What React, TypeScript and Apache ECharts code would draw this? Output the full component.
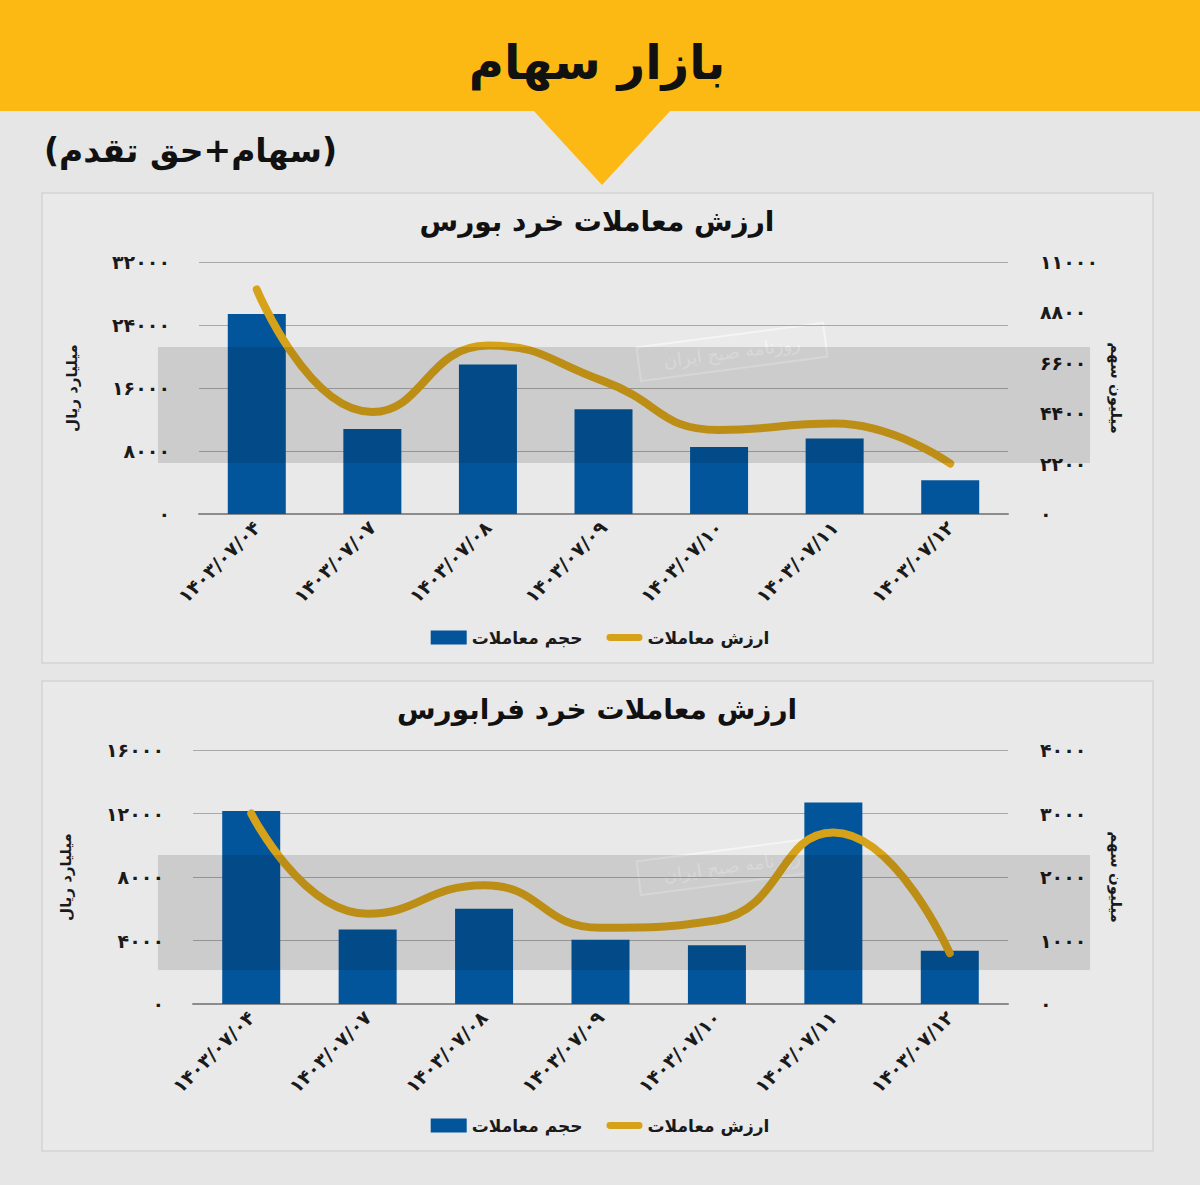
import React, { useEffect, useRef } from "react";
import * as echarts from "echarts";

const categories = [
  "۱۴۰۳/۰۷/۰۴",
  "۱۴۰۳/۰۷/۰۷",
  "۱۴۰۳/۰۷/۰۸",
  "۱۴۰۳/۰۷/۰۹",
  "۱۴۰۳/۰۷/۱۰",
  "۱۴۰۳/۰۷/۱۱",
  "۱۴۰۳/۰۷/۱۲",
];
// بورس
const boursVolume = [25400, 10800, 19000, 13300, 8500, 9600, 4300];
const boursValue = [9800, 4450, 7350, 5800, 3670, 3950, 2200];
// فرابورس
const faraVolume = [12150, 4700, 6000, 4050, 3700, 12700, 3350];
const faraValue = [3000, 1420, 1870, 1200, 1320, 2700, 800];

const mainTitle = "بازار سهام";
const subTitle = "\u202B(سهام+حق تقدم)\u202C";
const chartTitles = ["ارزش معاملات خرد بورس", "ارزش معاملات خرد فرابورس"];
const leftAxisName = "میلیارد ریال";
const rightAxisName = "میلیون سهم";
const barName = "حجم معاملات";
const lineName = "ارزش معاملات";
const watermarkText = "روزنامه صبح ایران";

const FONT = "DejaVu Sans";
const BLUE = "#03559b";
const GOLD = "#d6a21a";

const fa = (v: number | string) =>
  String(v).replace(/\d/g, (d) => "۰۱۲۳۴۵۶۷۸۹"[Number(d)]);

export default function App() {
  const ref = useRef<HTMLDivElement>(null);
  useEffect(() => {
    document.body.style.margin = "0";
    if (!ref.current) return;
    const chart = echarts.init(ref.current, undefined, { renderer: "svg" });

    const axisLabelBase = {
      color: "#1a1a1a",
      fontFamily: FONT,
      fontWeight: "bold" as const,
      fontSize: 19,
      formatter: (v: number) => fa(v),
    };

    const grids = [
      { left: 199, right: 192, top: 262, height: 252 },
      { left: 193, right: 192, top: 750, height: 254 },
    ];

    const xAxes = grids.map((_, i) => ({
      type: "category" as const,
      gridIndex: i,
      data: categories,
      boundaryGap: true,
      axisLine: { show: true, lineStyle: { color: "#8c8c8c", width: 2 } },
      axisTick: { show: false },
      axisLabel: {
        rotate: 45,
        margin: 10,
        interval: 0,
        color: "#1a1a1a",
        fontFamily: FONT,
        fontWeight: "bold" as const,
        fontSize: 19,
      },
    }));

    const leftMax = [32000, 16000];
    const leftInt = [8000, 4000];
    const rightMax = [11000, 4000];
    const rightInt = [2200, 1000];

    const yAxes: any[] = [];
    grids.forEach((_, i) => {
      yAxes.push({
        type: "value",
        gridIndex: i,
        position: "left",
        min: 0,
        max: leftMax[i],
        interval: leftInt[i],
        name: leftAxisName,
        nameLocation: "middle",
        nameRotate: 90,
        nameGap: 120,
        nameTextStyle: {
          color: "#1a1a1a",
          fontFamily: FONT,
          fontWeight: "bold",
          fontSize: 15,
        },
        axisLine: { show: false },
        axisTick: { show: false },
        axisLabel: { ...axisLabelBase, margin: 29 },
        splitLine: { show: true, lineStyle: { color: "#a9a9a9", width: 1 } },
      });
      yAxes.push({
        type: "value",
        gridIndex: i,
        position: "right",
        min: 0,
        max: rightMax[i],
        interval: rightInt[i],
        name: rightAxisName,
        nameLocation: "middle",
        nameRotate: -90,
        nameGap: 100,
        nameTextStyle: {
          color: "#1a1a1a",
          fontFamily: FONT,
          fontWeight: "bold",
          fontSize: 15,
        },
        axisLine: { show: false },
        axisTick: { show: false },
        axisLabel: { ...axisLabelBase, margin: 32 },
        splitLine: { show: false },
      });
    });

    const volumes = [boursVolume, faraVolume];
    const values = [boursValue, faraValue];
    const series: any[] = [];
    grids.forEach((_, i) => {
      series.push({
        type: "bar",
        name: barName,
        xAxisIndex: i,
        yAxisIndex: i * 2,
        data: volumes[i],
        barWidth: 58,
        itemStyle: { color: BLUE },
        z: 2,
      });
      series.push({
        type: "line",
        name: lineName,
        xAxisIndex: i,
        yAxisIndex: i * 2 + 1,
        data: values[i],
        smooth: 0.5,
        symbol: "none",
        lineStyle: { color: GOLD, width: 8, cap: "round" },
        itemStyle: { color: GOLD },
        z: 3,
      });
    });

    const legends = [624, 1112].map((top) => ({
      top,
      left: "center",
      itemWidth: 36,
      itemHeight: 14,
      itemGap: 24,
      textStyle: {
        color: "#1a1a1a",
        fontFamily: FONT,
        fontWeight: "bold" as const,
        fontSize: 17,
      },
      data: [
        { name: barName, icon: "rect", itemStyle: { color: BLUE } },
        {
          name: lineName,
          icon: "path://M4,0H38A4,4,0,0,1,38,8H4A4,4,0,0,1,4,0Z",
          itemStyle: { color: GOLD },
        },
      ],
    }));

    const panels = [
      { y: 193, h: 470, titleY: 221, bandY: 347, bandH: 116, wmY: 352 },
      { y: 681, h: 470, titleY: 709, bandY: 855, bandH: 115, wmY: 866 },
    ];

    const graphic: any[] = [
      {
        type: "rect",
        z: -100,
        shape: { x: 0, y: 0, width: 1200, height: 1185 },
        style: { fill: "#e6e6e6" },
        silent: true,
      },
      {
        type: "rect",
        z: -90,
        shape: { x: 0, y: 0, width: 1200, height: 111 },
        style: { fill: "#fdb913" },
        silent: true,
      },
      {
        type: "polygon",
        z: -90,
        shape: {
          points: [
            [533, 110],
            [671, 110],
            [602, 185],
          ],
        },
        style: { fill: "#fdb913" },
        silent: true,
      },
      {
        type: "text",
        z: 10,
        x: 597,
        y: 62,
        style: {
          text: mainTitle,
          fill: "#111",
          fontFamily: FONT,
          fontWeight: "bold",
          fontSize: 48,
          align: "center",
          verticalAlign: "middle",
        },
      },
      {
        type: "text",
        z: 10,
        x: 44,
        y: 150,
        style: {
          text: subTitle,
          fill: "#111",
          fontFamily: FONT,
          fontWeight: "bold",
          fontSize: 33,
          align: "left",
          verticalAlign: "middle",
        },
      },
    ];

    panels.forEach((p, i) => {
      graphic.push({
        type: "rect",
        z: -80,
        shape: { x: 42, y: p.y, width: 1111, height: p.h },
        style: { fill: "#e9e9e9", stroke: "#d3d3d3", lineWidth: 1.5 },
        silent: true,
      });
      graphic.push({
        type: "text",
        z: 10,
        x: 597,
        y: p.titleY,
        style: {
          text: chartTitles[i],
          fill: "#111",
          fontFamily: FONT,
          fontWeight: "bold",
          fontSize: 28,
          align: "center",
          verticalAlign: "middle",
        },
      });
      graphic.push({
        type: "rect",
        z: 100,
        shape: { x: 158, y: p.bandY, width: 932, height: p.bandH },
        style: { fill: "rgba(0,0,0,0.12)" },
        silent: true,
      });
      graphic.push({
        type: "group",
        z: 101,
        x: 732,
        y: p.wmY,
        rotation: 0.13,
        silent: true,
        children: [
          {
            type: "rect",
            shape: { x: -94, y: -17, width: 188, height: 34 },
            style: {
              fill: "rgba(255,255,255,0.08)",
              stroke: "rgba(255,255,255,0.5)",
              lineWidth: 2,
            },
          },
          {
            type: "text",
            x: 0,
            y: 0,
            style: {
              text: watermarkText,
              fill: "rgba(255,255,255,0.6)",
              fontFamily: FONT,
              fontSize: 18,
              align: "center",
              verticalAlign: "middle",
            },
          },
        ],
      });
    });

    chart.setOption({
      animation: false,
      backgroundColor: "#e6e6e6",
      grid: grids,
      xAxis: xAxes,
      yAxis: yAxes,
      series,
      legend: legends,
      graphic,
    });

    return () => chart.dispose();
  }, []);

  return <div ref={ref} style={{ width: 1200, height: 1185 }} />;
}
